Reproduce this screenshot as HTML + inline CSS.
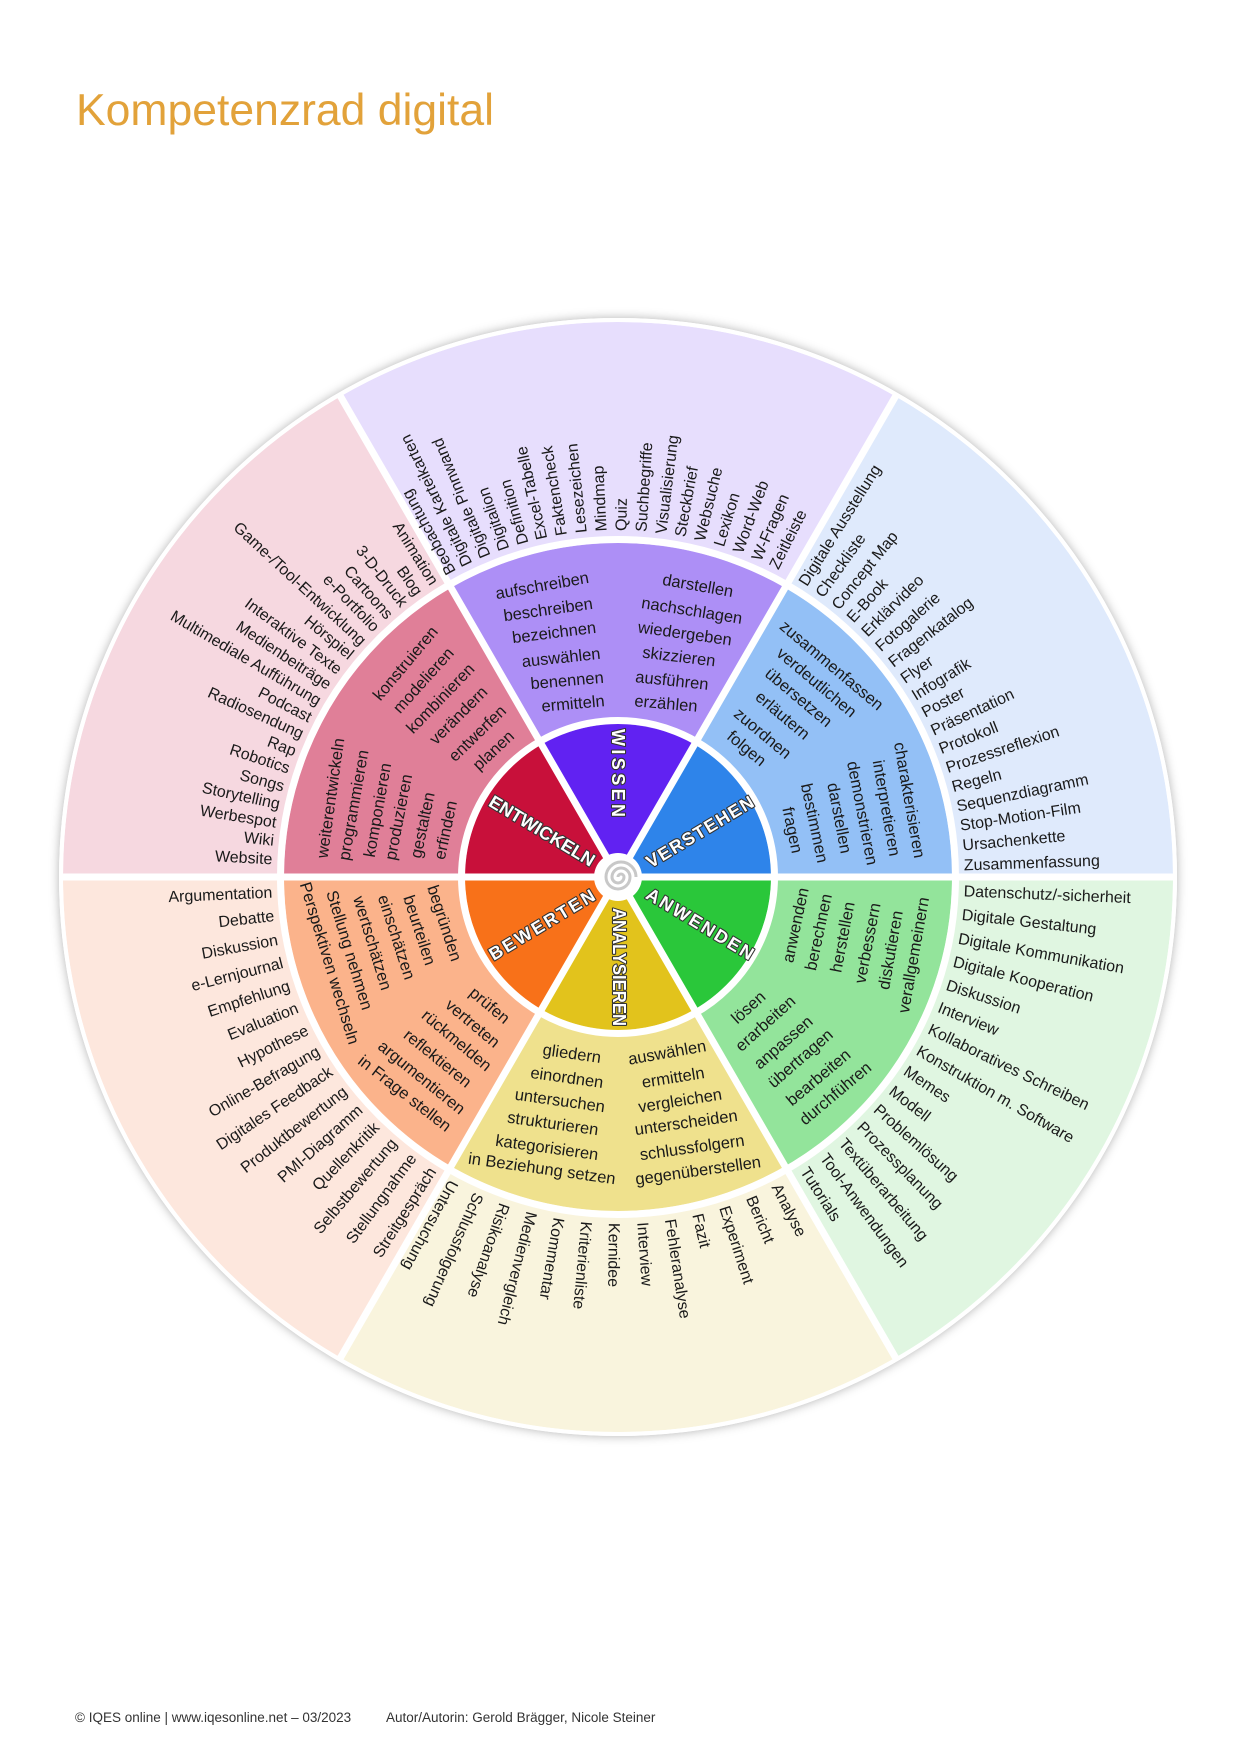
<!DOCTYPE html>
<html><head><meta charset="utf-8"><style>
html,body{margin:0;padding:0;background:#fff}
svg{display:block}
.o{font-family:"Liberation Sans",sans-serif;font-size:16px;fill:#1a1a1a}
.m{font-family:"Liberation Sans",sans-serif;font-size:16.5px;fill:#1a1a1a}
.c{font-family:"Liberation Sans",sans-serif;font-size:18px;font-weight:bold;fill:#fff;stroke:#333;stroke-width:2.2px;paint-order:stroke;stroke-linejoin:round}
</style></head><body>
<svg width="1240" height="1754" viewBox="0 0 1240 1754" xmlns="http://www.w3.org/2000/svg">
<text x="76" y="125" style="font-family:'Liberation Sans',sans-serif;font-size:44.5px;fill:#e2a23a">Kompetenzrad digital</text>

<circle cx="618" cy="877" r="559" fill="#fff" style="filter:drop-shadow(0 0 5px rgba(0,0,0,0.3))"/>
<path d="M618 877 L1173 877 A555 555 0 0 0 895.5 396.4 Z" fill="#dfeafc"/>
<path d="M618 877 L895.5 396.4 A555 555 0 0 0 340.5 396.4 Z" fill="#e7defd"/>
<path d="M618 877 L340.5 396.4 A555 555 0 0 0 63 877 Z" fill="#f6d8e0"/>
<path d="M618 877 L63 877 A555 555 0 0 0 340.5 1357.6 Z" fill="#fde7dd"/>
<path d="M618 877 L340.5 1357.6 A555 555 0 0 0 895.5 1357.6 Z" fill="#f9f4dd"/>
<path d="M618 877 L895.5 1357.6 A555 555 0 0 0 1173 877 Z" fill="#e0f6e1"/>
<path d="M618 877 L952 877 A334 334 0 0 0 785 587.75 Z" fill="#93c0f6"/>
<path d="M618 877 L785 587.75 A334 334 0 0 0 451 587.75 Z" fill="#ad8ff6"/>
<path d="M618 877 L451 587.75 A334 334 0 0 0 284 877 Z" fill="#e07f98"/>
<path d="M618 877 L284 877 A334 334 0 0 0 451 1166.25 Z" fill="#fbb38b"/>
<path d="M618 877 L451 1166.25 A334 334 0 0 0 785 1166.25 Z" fill="#efe18d"/>
<path d="M618 877 L785 1166.25 A334 334 0 0 0 952 877 Z" fill="#93e49b"/>
<circle cx="618" cy="877" r="337.5" fill="none" stroke="#fff" stroke-width="7"/>
<path d="M618 877 L771 877 A153 153 0 0 0 694.5 744.5 Z" fill="#2e84ea"/>
<path d="M618 877 L694.5 744.5 A153 153 0 0 0 541.5 744.5 Z" fill="#6122f2"/>
<path d="M618 877 L541.5 744.5 A153 153 0 0 0 465 877 Z" fill="#c8103a"/>
<path d="M618 877 L465 877 A153 153 0 0 0 541.5 1009.5 Z" fill="#f87119"/>
<path d="M618 877 L541.5 1009.5 A153 153 0 0 0 694.5 1009.5 Z" fill="#e2c31c"/>
<path d="M618 877 L694.5 1009.5 A153 153 0 0 0 771 877 Z" fill="#2ac73a"/>
<circle cx="618" cy="877" r="156.5" fill="none" stroke="#fff" stroke-width="7"/>
<g stroke="#fff" stroke-width="7">
<line x1="62" y1="877" x2="1174" y2="877"/>
<line x1="340" y1="395.5" x2="896" y2="1358.5"/>
<line x1="896" y1="395.5" x2="340" y2="1358.5"/>
</g>
<circle cx="618" cy="877" r="557" fill="none" stroke="#fff" stroke-width="4"/>
<circle cx="618" cy="877" r="24" fill="#fff"/>
<path d="M618 877 a3 3 0 0 1 6 0 a6 6 0 0 1 -12 0 a9 9 0 0 1 18 0 a12 12 0 0 1 -24 0 a15 15 0 0 1 30 0" fill="none" stroke="#c8c8c8" stroke-width="3"/>

<text class="c" text-anchor="middle" dy="6" transform="translate(618 773) rotate(90)" textLength="88" lengthAdjust="spacing">WISSEN</text>
<text class="c" text-anchor="middle" dy="6" transform="translate(700 832) rotate(-31)" textLength="122" lengthAdjust="spacing">VERSTEHEN</text>
<text class="c" text-anchor="middle" dy="6" transform="translate(700 924) rotate(31)" textLength="122" lengthAdjust="spacing">ANWENDEN</text>
<text class="c" text-anchor="middle" dy="6" transform="translate(619 967) rotate(90)" textLength="118" lengthAdjust="spacingAndGlyphs">ANALYSIEREN</text>
<text class="c" text-anchor="middle" dy="6" transform="translate(542 925) rotate(-31)" textLength="120" lengthAdjust="spacing">BEWERTEN</text>
<text class="c" text-anchor="middle" dy="6" transform="translate(542 831) rotate(31)" textLength="120" lengthAdjust="spacingAndGlyphs">ENTWICKELN</text>

<g class="m" text-anchor="middle">
<text dy="6" transform="translate(542 585) rotate(-10)">aufschreiben</text>
<text dy="6" transform="translate(548 609) rotate(-8)">beschreiben</text>
<text dy="6" transform="translate(554 632) rotate(-7)">bezeichnen</text>
<text dy="6" transform="translate(561 657) rotate(-6)">auswählen</text>
<text dy="6" transform="translate(567 680) rotate(-5)">benennen</text>
<text dy="6" transform="translate(573 703) rotate(-5)">ermitteln</text>
<text dy="6" transform="translate(698 585) rotate(10)">darstellen</text>
<text dy="6" transform="translate(692 610) rotate(9)">nachschlagen</text>
<text dy="6" transform="translate(685 633) rotate(8)">wiedergeben</text>
<text dy="6" transform="translate(679 656) rotate(7)">skizzieren</text>
<text dy="6" transform="translate(672 680) rotate(6)">ausführen</text>
<text dy="6" transform="translate(666 703) rotate(5)">erzählen</text>

<text dy="6" transform="translate(405 663) rotate(-50)">konstruieren</text>
<text dy="6" transform="translate(423 680) rotate(-48)">modelieren</text>
<text dy="6" transform="translate(440 698) rotate(-46)">kombinieren</text>
<text dy="6" transform="translate(458 715) rotate(-45)">verändern</text>
<text dy="6" transform="translate(477 733) rotate(-44)">entwerfen</text>
<text dy="6" transform="translate(493 750) rotate(-43)">planen</text>
<text dy="6" transform="translate(330 798) rotate(-82)">weiterentwickeln</text>
<text dy="6" transform="translate(353 805) rotate(-80)">programmieren</text>
<text dy="6" transform="translate(377 810) rotate(-80)">komponieren</text>
<text dy="6" transform="translate(398 817) rotate(-79)">produzieren</text>
<text dy="6" transform="translate(422 825) rotate(-78)">gestalten</text>
<text dy="6" transform="translate(445 830) rotate(-78)">erfinden</text>

<text dy="6" transform="translate(832 665) rotate(40)">zusammenfassen</text>
<text dy="6" transform="translate(817 682) rotate(40)">verdeutlichen</text>
<text dy="6" transform="translate(799 697) rotate(40)">übersetzen</text>
<text dy="6" transform="translate(783 715) rotate(40)">erläutern</text>
<text dy="6" transform="translate(763 733) rotate(40)">zuordnen</text>
<text dy="6" transform="translate(747 748) rotate(40)">folgen</text>
<text dy="6" transform="translate(910 800) rotate(80)">charakterisieren</text>
<text dy="6" transform="translate(887 808) rotate(80)">interpretieren</text>
<text dy="6" transform="translate(863 813) rotate(79)">demonstrieren</text>
<text dy="6" transform="translate(840 818) rotate(79)">darstellen</text>
<text dy="6" transform="translate(815 823) rotate(78)">bestimmen</text>
<text dy="6" transform="translate(793 830) rotate(78)">fragen</text>

<text dy="6" transform="translate(445 923) rotate(72)">begründen</text>
<text dy="6" transform="translate(420 930) rotate(72)">beurteilen</text>
<text dy="6" transform="translate(397 937) rotate(72)">einschätzen</text>
<text dy="6" transform="translate(373 943) rotate(73)">wertschätzen</text>
<text dy="6" transform="translate(350 950) rotate(73)">Stellung nehmen</text>
<text dy="6" transform="translate(330 963) rotate(73)">Perspektiven wechseln</text>
<text dy="6" transform="translate(490 1005) rotate(40)">prüfen</text>
<text dy="6" transform="translate(473 1023) rotate(40)">vertreten</text>
<text dy="6" transform="translate(457 1040) rotate(40)">rückmelden</text>
<text dy="6" transform="translate(438 1058) rotate(39)">reflektieren</text>
<text dy="6" transform="translate(422 1077) rotate(39)">argumentieren</text>
<text dy="6" transform="translate(405 1093) rotate(38)">in Frage stellen</text>

<text dy="6" transform="translate(572 1053) rotate(8)">gliedern</text>
<text dy="6" transform="translate(567 1077) rotate(8)">einordnen</text>
<text dy="6" transform="translate(560 1100) rotate(8)">untersuchen</text>
<text dy="6" transform="translate(553 1123) rotate(8)">strukturieren</text>
<text dy="6" transform="translate(547 1147) rotate(8)">kategorisieren</text>
<text dy="6" transform="translate(542 1168) rotate(8)">in Beziehung setzen</text>
<text dy="6" transform="translate(667 1052) rotate(-10)">auswählen</text>
<text dy="6" transform="translate(673 1077) rotate(-9)">ermitteln</text>
<text dy="6" transform="translate(680 1100) rotate(-9)">vergleichen</text>
<text dy="6" transform="translate(686 1122) rotate(-8)">unterscheiden</text>
<text dy="6" transform="translate(692 1147) rotate(-8)">schlussfolgern</text>
<text dy="6" transform="translate(698 1170) rotate(-8)">gegenüberstellen</text>

<text dy="6" transform="translate(795 925) rotate(-78)">anwenden</text>
<text dy="6" transform="translate(818 932) rotate(-78)">berechnen</text>
<text dy="6" transform="translate(842 937) rotate(-79)">herstellen</text>
<text dy="6" transform="translate(867 943) rotate(-79)">verbessern</text>
<text dy="6" transform="translate(890 950) rotate(-80)">diskutieren</text>
<text dy="6" transform="translate(913 955) rotate(-80)">verallgemeinern</text>
<text dy="6" transform="translate(748 1007) rotate(-42)">lösen</text>
<text dy="6" transform="translate(765 1023) rotate(-42)">erarbeiten</text>
<text dy="6" transform="translate(783 1042) rotate(-41)">anpassen</text>
<text dy="6" transform="translate(800 1058) rotate(-41)">übertragen</text>
<text dy="6" transform="translate(818 1077) rotate(-40)">bearbeiten</text>
<text dy="6" transform="translate(835 1093) rotate(-40)">durchführen</text>
</g>

<g class="o">
<text dy="5.5" transform="translate(618 877) rotate(-118.8) translate(346 0)">Beobachtung</text>
<text dy="5.5" transform="translate(618 877) rotate(-115.8) translate(346 0)">Digitale Karteikarten</text>
<text dy="5.5" transform="translate(618 877) rotate(-112.5) translate(346 0)">Digitale Pinnwand</text>
<text dy="5.5" transform="translate(618 877) rotate(-109.2) translate(346 0)">Digitalion</text>
<text dy="5.5" transform="translate(618 877) rotate(-105.9) translate(346 0)">Definition</text>
<text dy="5.5" transform="translate(618 877) rotate(-102.7) translate(346 0)">Excel-Tabelle</text>
<text dy="5.5" transform="translate(618 877) rotate(-99.4) translate(346 0)">Faktencheck</text>
<text dy="5.5" transform="translate(618 877) rotate(-96.1) translate(346 0)">Lesezeichen</text>
<text dy="5.5" transform="translate(618 877) rotate(-92.8) translate(346 0)">Mindmap</text>
<text dy="5.5" transform="translate(618 877) rotate(-89.5) translate(346 0)">Quiz</text>
<text dy="5.5" transform="translate(618 877) rotate(-86.2) translate(346 0)">Suchbegriffe</text>
<text dy="5.5" transform="translate(618 877) rotate(-82.9) translate(346 0)">Visualisierung</text>
<text dy="5.5" transform="translate(618 877) rotate(-79.7) translate(346 0)">Steckbrief</text>
<text dy="5.5" transform="translate(618 877) rotate(-76.4) translate(346 0)">Websuche</text>
<text dy="5.5" transform="translate(618 877) rotate(-73.1) translate(346 0)">Lexikon</text>
<text dy="5.5" transform="translate(618 877) rotate(-69.8) translate(346 0)">Word-Web</text>
<text dy="5.5" transform="translate(618 877) rotate(-66.5) translate(346 0)">W-Fragen</text>
<text dy="5.5" transform="translate(618 877) rotate(-63.3) translate(346 0)">Zeitleiste</text>

<text dy="5.5" transform="translate(618 877) rotate(-57.8) translate(346 0)">Digitale Ausstellung</text>
<text dy="5.5" transform="translate(618 877) rotate(-54.5) translate(346 0)">Checkliste</text>
<text dy="5.5" transform="translate(618 877) rotate(-51.2) translate(346 0)">Concept Map</text>
<text dy="5.5" transform="translate(618 877) rotate(-48) translate(346 0)">E-Book</text>
<text dy="5.5" transform="translate(618 877) rotate(-44.7) translate(346 0)">Erklärvideo</text>
<text dy="5.5" transform="translate(618 877) rotate(-41.4) translate(346 0)">Fotogalerie</text>
<text dy="5.5" transform="translate(618 877) rotate(-38.1) translate(346 0)">Fragenkatalog</text>
<text dy="5.5" transform="translate(618 877) rotate(-34.8) translate(346 0)">Flyer</text>
<text dy="5.5" transform="translate(618 877) rotate(-31.5) translate(346 0)">Infografik</text>
<text dy="5.5" transform="translate(618 877) rotate(-28.3) translate(346 0)">Poster</text>
<text dy="5.5" transform="translate(618 877) rotate(-25) translate(346 0)">Präsentation</text>
<text dy="5.5" transform="translate(618 877) rotate(-21.7) translate(346 0)">Protokoll</text>
<text dy="5.5" transform="translate(618 877) rotate(-18.4) translate(346 0)">Prozessreflexion</text>
<text dy="5.5" transform="translate(618 877) rotate(-15.1) translate(346 0)">Regeln</text>
<text dy="5.5" transform="translate(618 877) rotate(-11.8) translate(346 0)">Sequenzdiagramm</text>
<text dy="5.5" transform="translate(618 877) rotate(-8.6) translate(346 0)">Stop-Motion-Film</text>
<text dy="5.5" transform="translate(618 877) rotate(-5.3) translate(346 0)">Ursachenkette</text>
<text dy="5.5" transform="translate(618 877) rotate(-2) translate(346 0)">Zusammenfassung</text>

<text dy="5.5" transform="translate(618 877) rotate(2.3) translate(346 0)">Datenschutz/-sicherheit</text>
<text dy="5.5" transform="translate(618 877) rotate(6.2) translate(346 0)">Digitale Gestaltung</text>
<text dy="5.5" transform="translate(618 877) rotate(10.2) translate(346 0)">Digitale Kommunikation</text>
<text dy="5.5" transform="translate(618 877) rotate(14.1) translate(346 0)">Digitale Kooperation</text>
<text dy="5.5" transform="translate(618 877) rotate(18.1) translate(346 0)">Diskussion</text>
<text dy="5.5" transform="translate(618 877) rotate(22) translate(346 0)">Interview</text>
<text dy="5.5" transform="translate(618 877) rotate(25.9) translate(346 0)">Kollaboratives Schreiben</text>
<text dy="5.5" transform="translate(618 877) rotate(29.9) translate(346 0)">Konstruktion m. Software</text>
<text dy="5.5" transform="translate(618 877) rotate(33.8) translate(346 0)">Memes</text>
<text dy="5.5" transform="translate(618 877) rotate(37.8) translate(346 0)">Modell</text>
<text dy="5.5" transform="translate(618 877) rotate(41.7) translate(346 0)">Problemlösung</text>
<text dy="5.5" transform="translate(618 877) rotate(45.6) translate(346 0)">Prozessplanung</text>
<text dy="5.5" transform="translate(618 877) rotate(49.6) translate(346 0)">Textüberarbeitung</text>
<text dy="5.5" transform="translate(618 877) rotate(53.5) translate(346 0)">Tool-Anwendungen</text>
<text dy="5.5" transform="translate(618 877) rotate(57.4) translate(346 0)">Tutorials</text>

<text dy="5.5" transform="translate(618 877) rotate(62.8) translate(346 0)">Analyse</text>
<text dy="5.5" transform="translate(618 877) rotate(67.4) translate(346 0)">Bericht</text>
<text dy="5.5" transform="translate(618 877) rotate(72.1) translate(346 0)">Experiment</text>
<text dy="5.5" transform="translate(618 877) rotate(76.7) translate(346 0)">Fazit</text>
<text dy="5.5" transform="translate(618 877) rotate(81.3) translate(346 0)">Fehleranalyse</text>
<text dy="5.5" transform="translate(618 877) rotate(85.9) translate(346 0)">Interview</text>
<text dy="5.5" transform="translate(618 877) rotate(90.6) translate(346 0)">Kernidee</text>
<text dy="5.5" transform="translate(618 877) rotate(95.2) translate(346 0)">Kriterienliste</text>
<text dy="5.5" transform="translate(618 877) rotate(99.8) translate(346 0)">Kommentar</text>
<text dy="5.5" transform="translate(618 877) rotate(104.4) translate(346 0)">Medienvergleich</text>
<text dy="5.5" transform="translate(618 877) rotate(109.1) translate(346 0)">Risikoanalyse</text>
<text dy="5.5" transform="translate(618 877) rotate(113.7) translate(346 0)">Schlussfolgerung</text>
<text dy="5.5" transform="translate(618 877) rotate(118.3) translate(346 0)">Untersuchung</text>
</g>

<g class="o" text-anchor="end">
<text dy="5.5" transform="translate(618 877) rotate(-182.5) translate(346 0) rotate(180)">Argumentation</text>
<text dy="5.5" transform="translate(618 877) rotate(-186.4) translate(346 0) rotate(180)">Debatte</text>
<text dy="5.5" transform="translate(618 877) rotate(-190.4) translate(346 0) rotate(180)">Diskussion</text>
<text dy="5.5" transform="translate(618 877) rotate(-194.3) translate(346 0) rotate(180)">e-Lernjournal</text>
<text dy="5.5" transform="translate(618 877) rotate(-198.2) translate(346 0) rotate(180)">Empfehlung</text>
<text dy="5.5" transform="translate(618 877) rotate(-202.1) translate(346 0) rotate(180)">Evaluation</text>
<text dy="5.5" transform="translate(618 877) rotate(-206.1) translate(346 0) rotate(180)">Hypothese</text>
<text dy="5.5" transform="translate(618 877) rotate(-210) translate(346 0) rotate(180)">Online-Befragung</text>
<text dy="5.5" transform="translate(618 877) rotate(-213.9) translate(346 0) rotate(180)">Digitales Feedback</text>
<text dy="5.5" transform="translate(618 877) rotate(-217.9) translate(346 0) rotate(180)">Produktbewertung</text>
<text dy="5.5" transform="translate(618 877) rotate(-221.8) translate(346 0) rotate(180)">PMI-Diagramm</text>
<text dy="5.5" transform="translate(618 877) rotate(-225.7) translate(346 0) rotate(180)">Quellenkritik</text>
<text dy="5.5" transform="translate(618 877) rotate(-229.6) translate(346 0) rotate(180)">Selbstbewertung</text>
<text dy="5.5" transform="translate(618 877) rotate(-233.6) translate(346 0) rotate(180)">Stellungnahme</text>
<text dy="5.5" transform="translate(618 877) rotate(-237.5) translate(346 0) rotate(180)">Streitgespräch</text>

<text dy="5.5" transform="translate(618 877) rotate(-122) translate(346 0) rotate(180)">Animation</text>
<text dy="5.5" transform="translate(618 877) rotate(-125.1) translate(346 0) rotate(180)">Blog</text>
<text dy="5.5" transform="translate(618 877) rotate(-128.1) translate(346 0) rotate(180)">3-D-Druck</text>
<text dy="5.5" transform="translate(618 877) rotate(-131.2) translate(346 0) rotate(180)">Cartoons</text>
<text dy="5.5" transform="translate(618 877) rotate(-134.2) translate(346 0) rotate(180)">e-Portfolio</text>
<text dy="5.5" transform="translate(618 877) rotate(-137.3) translate(346 0) rotate(180)">Game-/Tool-Entwicklung</text>
<text dy="5.5" transform="translate(618 877) rotate(-140.3) translate(346 0) rotate(180)">Hörspiel</text>
<text dy="5.5" transform="translate(618 877) rotate(-143.4) translate(346 0) rotate(180)">Interaktive Texte</text>
<text dy="5.5" transform="translate(618 877) rotate(-146.4) translate(346 0) rotate(180)">Medienbeiträge</text>
<text dy="5.5" transform="translate(618 877) rotate(-149.5) translate(346 0) rotate(180)">Multimediale Aufführung</text>
<text dy="5.5" transform="translate(618 877) rotate(-152.6) translate(346 0) rotate(180)">Podcast</text>
<text dy="5.5" transform="translate(618 877) rotate(-155.6) translate(346 0) rotate(180)">Radiosendung</text>
<text dy="5.5" transform="translate(618 877) rotate(-158.7) translate(346 0) rotate(180)">Rap</text>
<text dy="5.5" transform="translate(618 877) rotate(-161.7) translate(346 0) rotate(180)">Robotics</text>
<text dy="5.5" transform="translate(618 877) rotate(-164.8) translate(346 0) rotate(180)">Songs</text>
<text dy="5.5" transform="translate(618 877) rotate(-167.8) translate(346 0) rotate(180)">Storytelling</text>
<text dy="5.5" transform="translate(618 877) rotate(-170.9) translate(346 0) rotate(180)">Werbespot</text>
<text dy="5.5" transform="translate(618 877) rotate(-173.9) translate(346 0) rotate(180)">Wiki</text>
<text dy="5.5" transform="translate(618 877) rotate(-177) translate(346 0) rotate(180)">Website</text>
</g>

<text x="75" y="1722" style="font-family:'Liberation Sans',sans-serif;font-size:13.5px;fill:#333">© IQES online | www.iqesonline.net – 03/2023</text>
<text x="386" y="1722" style="font-family:'Liberation Sans',sans-serif;font-size:13.5px;fill:#333">Autor/Autorin: Gerold Brägger, Nicole Steiner</text>
</svg>
</body></html>
